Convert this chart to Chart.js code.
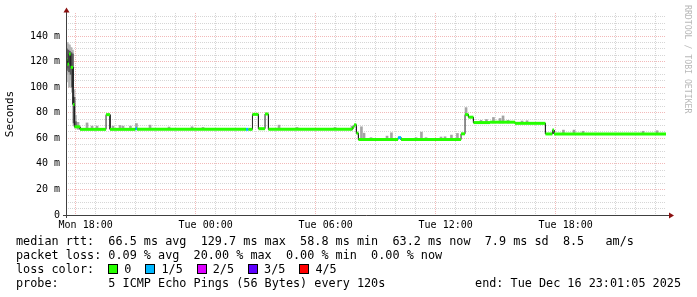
<!DOCTYPE html>
<html>
<head>
<meta charset="utf-8">
<script src="https://cdn.jsdelivr.net/npm/chart.js@4/dist/chart.umd.min.js"></script>
<style>
  html, body { margin: 0; padding: 0; background: #fff; }
  #wrap { position: relative; width: 697px; height: 297px; overflow: hidden; }
  #chart { position: absolute; left: 0; top: 0; }
  .txt { position: absolute; font: 11.8px "DejaVu Sans Mono", monospace; line-height: 14px; white-space: pre; color: #000; }
  .box { display: inline-block; width: 8px; height: 8px; border: 1px solid #000; vertical-align: -1px; margin-right: 6px; }
  .lab { margin-right: 14px; }
  .credit { position: absolute; left: 683px; top: 5px; writing-mode: vertical-rl; font: 8.2px "DejaVu Sans Mono", monospace; color: #b8b8b8; white-space: pre; }
</style>
</head>
<body>
<div id="wrap">
  <canvas id="chart" width="697" height="297"></canvas>
  <div class="credit">RRDTOOL / TOBI OETIKER</div>
  <div class="txt" style="left:16px; top:234px">median rtt:  66.5 ms avg  129.7 ms max  58.8 ms min  63.2 ms now  7.9 ms sd  8.5   am/s
packet loss: 0.09 % avg  20.00 % max  0.00 % min  0.00 % now
<span id="losskey">loss color:  </span>
probe:       5 ICMP Echo Pings (56 Bytes) every 120s</div>
  <div class="txt" style="right:16px; top:276px">end: Tue Dec 16 23:01:05 2025</div>
</div>
<script>
// loss colours (smokeping, 5 pings)
const lossColors = ["#26ff00", "#00b8ff", "#dd00ff", "#5e00ff", "#ff0000"];
const lossLabels = ["0", "1/5", "2/5", "3/5", "4/5"];

// median rtt in ms, as steps. times are hours since Mon 00:00, last entry is the end
const medianTimes = [17.02, 17.09, 17.17, 17.25, 17.37, 17.44, 17.72, 19.02, 19.22, 20.49,
  20.57, 26.02, 26.14, 26.34, 26.64, 26.97, 27.14, 31.34, 31.42, 31.54,
  31.64, 33.62, 33.77, 36.77, 36.97, 37.14, 37.39, 38.22, 39.47, 40.99,
  41.34, 41.42, 47.02];
const medianValues = [121.5, 118, 126, 115.5, 86.5, 69, 67, 78.5, 67, 67.5,
  67, 67, 67, 78.7, 67.5, 79, 67, 68.5, 70.5, 64,
  59, 60.5, 59, 63.5, 78.5, 76.5, 72.3, 72.6, 71.7, 63.4,
  66.5, 63.4];
// lost pings per step (0..4)
const medianLoss = [0, 0, 0, 0, 0, 0, 0, 0, 0, 1,
  0, 1, 0, 0, 0, 0, 0, 0, 0, 0,
  0, 1, 0, 0, 0, 0, 0, 0, 0, 0,
  0, 0];

// smoke spikes (spread of the pings)
const smokeTimes = [17.62, 18.07, 18.32, 18.57, 19.37, 19.72, 19.87, 20.24, 20.54, 21.22,
  22.17, 23.32, 23.87, 27.67, 28.57, 30.47, 31.32, 31.79, 31.92, 32.27,
  33.07, 33.29, 34.52, 34.79, 35.02, 35.77, 35.97, 36.29, 36.59, 37.02,
  37.77, 38.04, 38.39, 38.72, 38.87, 39.12, 39.82, 40.07, 41.89, 42.42,
  42.87, 45.87, 46.57];
const smokeLow = [67, 67, 67, 67, 67, 67, 67, 67, 67, 67,
  67, 67, 67, 67, 67, 67, 67, 59, 59, 59,
  59, 59, 59, 59, 59, 59, 59, 59, 59, 78.5,
  72, 72, 72, 72, 72, 72, 72, 72, 63.4, 63.4,
  63.4, 63.4, 63.4];
const smokeHigh = [72.5, 72, 69.5, 69.5, 69.5, 70, 69.5, 69.5, 71.5, 70.3,
  68.8, 69, 68.5, 70.3, 68.5, 68.5, 69.5, 69, 64, 60.5,
  61.7, 64.3, 60.5, 64.8, 60.5, 61, 61.2, 62.5, 63.8, 84,
  74, 74.7, 76.3, 75.5, 77.5, 74, 73.5, 73.7, 66.4, 66.4,
  65.5, 65.5, 65.9];

// dense smoke at the start
const burstTimes = [17.04, 17.12, 17.19, 17.27, 17.34, 17.42, 17.49];
const burstOuterLow = [104, 110, 100, 106, 96, 70, 68];
const burstOuterHigh = [135, 134, 133, 131, 129, 98, 78];
const burstInnerLow = [113, 115, 112, 110, 100, 72, 69];
const burstInnerHigh = [130, 129, 128, 127, 126, 92, 73];

const xStart = 17.018;
const xEnd = 47.018;
const xLabelHours = [18, 24, 30, 36, 42];
const xLabels = ["Mon 18:00", "Tue 00:00", "Tue 06:00", "Tue 12:00", "Tue 18:00"];
const yMax = 158;

const MONO = "DejaVu Sans Mono";
const majorGrid = "rgba(220,70,70,0.38)";
const minorGrid = "rgba(120,120,120,0.3)";

// legend boxes
const key = document.getElementById("losskey");
lossColors.forEach(function(c, i) {
  const b = document.createElement("span");
  b.className = "box";
  b.style.background = c;
  key.appendChild(b);
  const l = document.createElement("span");
  l.className = "lab";
  l.textContent = lossLabels[i];
  key.appendChild(l);
});

// build line points from the steps
const medianLine = [];
const lossLine = [];
for (let i = 0; i < medianValues.length; i++) {
  medianLine.push({x: medianTimes[i], y: medianValues[i]}, {x: medianTimes[i + 1], y: medianValues[i]});
  lossLine.push({x: medianTimes[i], y: medianValues[i]}, {x: medianTimes[i + 1], y: medianValues[i]}, {x: medianTimes[i + 1], y: null});
}
const smokeBars = smokeTimes.map((t, i) => ({x: t, y: [smokeLow[i], smokeHigh[i]]}));
const outerBars = burstTimes.map((t, i) => ({x: t, y: [burstOuterLow[i], burstOuterHigh[i]]}));
const innerBars = burstTimes.map((t, i) => ({x: t, y: [burstInnerLow[i], burstInnerHigh[i]]}));

const axisArrows = {
  id: "axisArrows",
  afterDraw(chart) {
    const ctx = chart.ctx;
    const a = chart.chartArea;
    ctx.save();
    ctx.strokeStyle = "#404040";
    ctx.lineWidth = 1;
    ctx.beginPath();
    ctx.moveTo(a.left - 3, a.bottom + 0.5);
    ctx.lineTo(a.right + 4, a.bottom + 0.5);
    ctx.moveTo(a.left + 0.5, a.bottom + 3);
    ctx.lineTo(a.left + 0.5, a.top - 3);
    ctx.stroke();
    ctx.fillStyle = "#8b1010";
    ctx.beginPath();
    ctx.moveTo(a.left - 2.5, a.top - 0.5);
    ctx.lineTo(a.left + 3.5, a.top - 0.5);
    ctx.lineTo(a.left + 0.5, a.top - 5.5);
    ctx.closePath();
    ctx.fill();
    ctx.beginPath();
    ctx.moveTo(a.right + 3, a.bottom - 2.5);
    ctx.lineTo(a.right + 3, a.bottom + 3.5);
    ctx.lineTo(a.right + 8, a.bottom + 0.5);
    ctx.closePath();
    ctx.fill();
    ctx.restore();
  }
};

new Chart(document.getElementById("chart").getContext("2d"), {
  type: "line",
  data: {
    datasets: [{
      type: "line",
      data: lossLine,
      borderWidth: 3,
      borderColor: lossColors[0],
      borderCapStyle: "butt",
      segment: {
        borderColor: c => lossColors[medianLoss[Math.floor(c.p0DataIndex / 3)]]
      },
      pointRadius: 0,
      order: 0
    }, {
      type: "line",
      data: medianLine,
      borderWidth: 1,
      borderColor: "#202020",
      pointRadius: 0,
      order: 1
    }, {
      type: "bar",
      data: innerBars,
      backgroundColor: "#5a5a5a",
      barThickness: 2,
      grouped: false,
      order: 2
    }, {
      type: "bar",
      data: outerBars,
      backgroundColor: "#b4b4b4",
      barThickness: 2,
      grouped: false,
      order: 3
    }, {
      type: "bar",
      data: smokeBars,
      backgroundColor: "#a4a4a4",
      barThickness: 2,
      grouped: false,
      order: 3
    }]
  },
  options: {
    responsive: false,
    animation: false,
    events: [],
    layout: { padding: { left: 0, top: 13, right: 31, bottom: 65 } },
    plugins: { legend: { display: false }, tooltip: { enabled: false } },
    scales: {
      x: {
        type: "linear",
        min: xStart,
        max: xEnd,
        offset: false,
        afterBuildTicks: s => {
          const t = [];
          for (let h = 18; h <= 47; h++) t.push({value: h});
          s.ticks = t;
        },
        afterFit: s => { s.height = 17; },
        grid: {
          color: c => (c.tick && c.tick.value % 6 === 0) ? majorGrid : minorGrid,
          lineWidth: 1,
          drawTicks: false
        },
        border: { display: false, dash: [1, 1] },
        ticks: {
          autoSkip: false,
          maxRotation: 0,
          minRotation: 0,
          padding: 4,
          color: "#000",
          font: { family: MONO, size: 10 },
          callback: v => {
            const i = xLabelHours.indexOf(v);
            return i >= 0 ? xLabels[i] : "";
          }
        }
      },
      y: {
        type: "linear",
        min: 0,
        max: yMax,
        afterBuildTicks: s => {
          const t = [];
          for (let v = 0; v <= 155; v += 5) t.push({value: v});
          s.ticks = t;
        },
        afterFit: s => { s.width = 66; },
        grid: {
          color: c => (c.tick && c.tick.value % 20 === 0) ? majorGrid : minorGrid,
          lineWidth: 1,
          drawTicks: false
        },
        border: { display: false, dash: [1, 1] },
        title: {
          display: true,
          text: "Seconds",
          color: "#000",
          font: { family: MONO, size: 11 },
          padding: { top: 4, bottom: 0 }
        },
        ticks: {
          autoSkip: false,
          padding: 6,
          color: "#000",
          font: { family: MONO, size: 10 },
          callback: v => v % 20 === 0 ? (v === 0 ? "0" : v + " m") : ""
        }
      }
    }
  },
  plugins: [axisArrows]
});
</script>
</body>
</html>
